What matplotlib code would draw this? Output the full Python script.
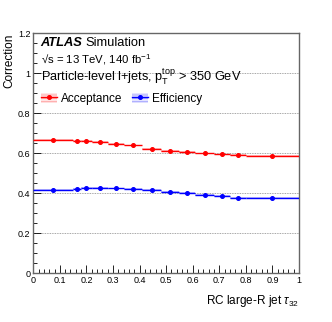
import numpy as np
import matplotlib
matplotlib.use("Agg")
import matplotlib.pyplot as plt
from matplotlib.patches import Patch
from matplotlib.lines import Line2D

plt.rcParams['font.family'] = ['Liberation Sans', 'DejaVu Sans']
plt.rcParams['mathtext.fontset'] = 'custom'
plt.rcParams['mathtext.rm'] = 'Liberation Sans'
plt.rcParams['mathtext.it'] = 'Liberation Sans:italic'
plt.rcParams['mathtext.bf'] = 'Liberation Sans:bold'
plt.rcParams['hatch.linewidth'] = 0.6

# bin edges of RC large-R jet tau32
bin_edges = [0.0, 0.15, 0.18, 0.22, 0.28, 0.34, 0.41, 0.48, 0.55, 0.61, 0.68, 0.74, 0.80, 1.0]
acceptance = [0.666, 0.663, 0.661, 0.657, 0.648, 0.640, 0.623, 0.613, 0.606, 0.600, 0.595, 0.592, 0.589]
efficiency = [0.418, 0.421, 0.426, 0.427, 0.425, 0.422, 0.418, 0.408, 0.403, 0.392, 0.386, 0.376, 0.379]
acc_err = [0.004] * 13
eff_err = [0.004] * 13

x_ticks = [0, 0.1, 0.2, 0.3, 0.4, 0.5, 0.6, 0.7, 0.8, 0.9, 1.0]
x_labels = ['0', '0.1', '0.2', '0.3', '0.4', '0.5', '0.6', '0.7', '0.8', '0.9', '1']
y_ticks = [0, 0.2, 0.4, 0.6, 0.8, 1.0, 1.2]
y_labels = ['0', '0.2', '0.4', '0.6', '0.8', '1', '1.2']

edges = np.array(bin_edges)
centers = 0.5 * (edges[1:] + edges[:-1])
halfw = 0.5 * (edges[1:] - edges[:-1])

fig = plt.figure(figsize=(3.32, 3.22), dpi=100)
ax = fig.add_axes([0.1003, 0.1512, 0.8003, 0.7454])

for vals, errs, col, band in [(acceptance, acc_err, 'red', '#ff9999'),
                              (efficiency, eff_err, 'blue', '#9999ff')]:
    v = np.array(vals)
    e = np.array(errs)
    for i in range(len(v)):
        ax.fill_between([edges[i], edges[i + 1]], v[i] - e[i], v[i] + e[i],
                        color=band, alpha=0.6, lw=0, zorder=2)
    ax.errorbar(centers, v, xerr=halfw, fmt='o', color=col, ms=2.6,
                elinewidth=1.0, capsize=0, zorder=3)

ax.set_xlim(0, 1)
ax.set_ylim(0, 1.2)
for y in [0.2, 0.4, 0.6, 0.8, 1.0]:
    ax.axhline(y, color='#888888', ls=(0, (1, 1)), lw=0.6, zorder=1)

ax.set_xticks(x_ticks)
ax.set_xticklabels(x_labels)
ax.set_xticks(np.arange(0, 1.001, 0.02), minor=True)
ax.set_yticks(y_ticks)
ax.set_yticklabels(y_labels)
ax.set_yticks(np.arange(0, 1.201, 0.05), minor=True)
ax.tick_params(which='both', direction='in', top=False, right=False, labelsize=6.5, pad=2)
ax.tick_params(which='major', length=6, width=0.6)
ax.tick_params(which='minor', length=3, width=0.6)
for s in ax.spines.values():
    s.set_linewidth(1.0)
    s.set_color('#666666')

ax.set_xlabel(r'RC large-R jet $\tau_{32}$', fontsize=8.5, loc='right', labelpad=6)
ax.set_ylabel('Correction', fontsize=8.5, loc='top', labelpad=2)

ax.text(0.028, 0.945, 'ATLAS', transform=ax.transAxes, fontsize=9.3,
        fontweight='bold', fontstyle='italic')
ax.text(0.198, 0.945, 'Simulation', transform=ax.transAxes, fontsize=9.3)
ax.text(0.028, 0.874, '\u221as = 13 TeV, 140 fb$^{-1}$', transform=ax.transAxes, fontsize=8.2)
ax.text(0.028, 0.798, r'Particle-level l+jets, p$_\mathrm{T}^\mathrm{top}$ > 350 GeV',
        transform=ax.transAxes, fontsize=9.2)

h_acc = (Patch(facecolor='#ffe4e4', edgecolor='#ff9f9f', hatch='-----', lw=0),
         Line2D([], [], color='red', marker='o', ms=2.6, lw=1.0))
h_eff = (Patch(facecolor='#e4e4ff', edgecolor='#9f9fff', hatch='-----', lw=0),
         Line2D([], [], color='blue', marker='o', ms=2.6, lw=1.0))
ax.legend([h_acc, h_eff], ['Acceptance', 'Efficiency'], ncol=2, frameon=False,
          fontsize=8.5, loc='center left', bbox_to_anchor=(0.03, 0.727),
          handlelength=1.3, handleheight=0.9, handletextpad=0.4, columnspacing=0.8,
          borderaxespad=0, borderpad=0)

fig.savefig('out.png', dpi=100)
